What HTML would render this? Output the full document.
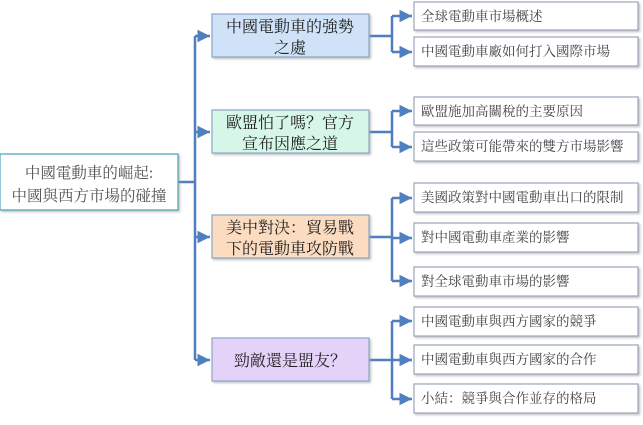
<!DOCTYPE html>
<html><head><meta charset="utf-8"><style>
body{margin:0;background:#fff;width:643px;height:420px;overflow:hidden}
svg text{font-family:"Liberation Serif","Noto Serif CJK SC","Noto Sans CJK TC",serif}
</style></head><body>
<svg width="643" height="420" viewBox="0 0 643 420" xmlns="http://www.w3.org/2000/svg">
<defs>
<marker id="a" markerWidth="6" markerHeight="6" refX="5" refY="3" orient="auto"><path d="M0,0.5 L5,3 L0,5.5z" fill="#4f7fbf"/></marker>
<filter id="s" x="-5%" y="-10%" width="115%" height="130%"><feDropShadow dx="1.5" dy="1.5" stdDeviation="1" flood-color="#999" flood-opacity="0.6"/></filter>
</defs>
<g stroke="#4f7fbf" stroke-width="2.5" fill="none">
<path d="M178,182 H195"/>
<path d="M195,36 V360"/>
<path d="M195,36 H210" marker-end="url(#a)"/>
<path d="M195,132 H210" marker-end="url(#a)"/>
<path d="M195,237 H210" marker-end="url(#a)"/>
<path d="M195,360 H210" marker-end="url(#a)"/>
<path d="M369,36 H392 M392,16 V52"/>
<path d="M392,16 H412" marker-end="url(#a)"/><path d="M392,52 H412" marker-end="url(#a)"/>
<path d="M369,132 H392 M392,111 V147"/>
<path d="M392,111 H412" marker-end="url(#a)"/><path d="M392,147 H412" marker-end="url(#a)"/>
<path d="M369,237 H392 M392,198 V281"/>
<path d="M392,198 H412" marker-end="url(#a)"/><path d="M392,238 H412" marker-end="url(#a)"/><path d="M392,281 H412" marker-end="url(#a)"/>
<path d="M369,360 H392 M392,321 V399"/>
<path d="M392,321 H412" marker-end="url(#a)"/><path d="M392,360 H412" marker-end="url(#a)"/><path d="M392,399 H412" marker-end="url(#a)"/>
</g>
<g filter="url(#s)" stroke-width="1.2">
<rect x="0" y="154" width="178" height="56" fill="#fff" stroke="#4aa3b8"/>
<rect x="212" y="14" width="157" height="43" fill="#cfe2f8" stroke="#8aa6c8"/>
<rect x="212" y="110" width="157" height="43" fill="#d6f7e8" stroke="#8aa6c8"/>
<rect x="212" y="215" width="157" height="43" fill="#fbdcc0" stroke="#8aa6c8"/>
<rect x="212" y="338" width="157" height="43" fill="#e4d2f8" stroke="#8aa6c8"/>
<g fill="#fff" stroke="#9aa6b8">
<rect x="414" y="2" width="224" height="28"/><rect x="414" y="37" width="224" height="29"/>
<rect x="414" y="97" width="224" height="28"/><rect x="414" y="132" width="224" height="29"/>
<rect x="414" y="183" width="224" height="29"/><rect x="414" y="223" width="224" height="29"/><rect x="414" y="267" width="224" height="29"/>
<rect x="414" y="307" width="224" height="29"/><rect x="414" y="345" width="224" height="29"/><rect x="414" y="384" width="224" height="29"/>
</g></g>
<g font-size="15.5" fill="#555" text-anchor="middle">
<text x="89" y="178">中國電動車的崛起:</text>
<text x="89" y="201">中國與西方市場的碰撞</text>
</g>
<g font-size="16" fill="#222" text-anchor="middle" style='font-family:"Noto Serif CJK SC","Noto Sans CJK TC",serif'>
<text x="290" y="32">中國電動車的強勢</text><text x="290" y="53">之處</text>
<text x="290" y="128">歐盟怕了嗎？官方</text><text x="290" y="149">宣布因應之道</text>
<text x="290" y="233">美中對決：貿易戰</text><text x="290" y="254">下的電動車攻防戰</text>
<text x="290" y="366">勁敵還是盟友？</text>
</g>
<g font-size="13.5" fill="#444" style='font-family:"Noto Serif CJK SC","Noto Sans CJK TC",serif'>
<text x="421" y="21">全球電動車市場概述</text>
<text x="421" y="56">中國電動車廠如何打入國際市場</text>
<text x="421" y="116">歐盟施加高關稅的主要原因</text>
<text x="421" y="151">這些政策可能帶來的雙方市場影響</text>
<text x="421" y="202">美國政策對中國電動車出口的限制</text>
<text x="421" y="242">對中國電動車產業的影響</text>
<text x="421" y="286">對全球電動車市場的影響</text>
<text x="421" y="326">中國電動車與西方國家的競爭</text>
<text x="421" y="364">中國電動車與西方國家的合作</text>
<text x="421" y="403">小結：競爭與合作並存的格局</text>
</g>
</svg>
</body></html>
